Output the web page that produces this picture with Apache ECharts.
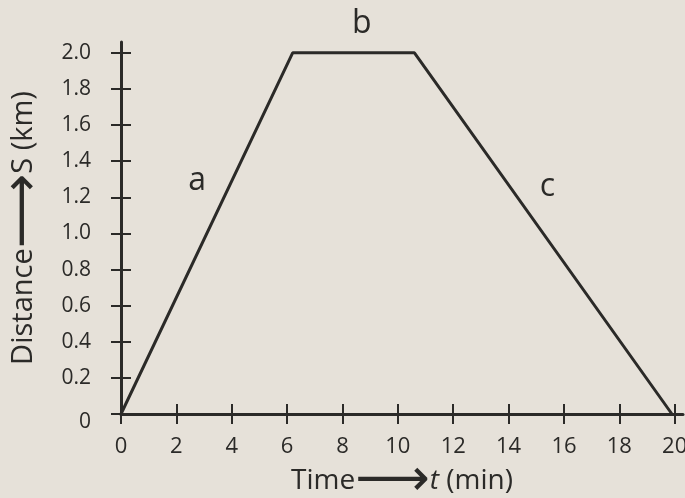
<!DOCTYPE html>
<html>
<head>
<meta charset="utf-8">
<script src="https://cdn.jsdelivr.net/npm/echarts@6/dist/echarts.min.js"></script>
<style>
  html, body { margin: 0; padding: 0; background: #e6e1d9; }
  #chart { width: 685px; height: 498px; }
</style>
</head>
<body>
<div id="chart"></div>
<script>
// distance-time graph data
const times = [0, 6.2, 10.6, 19.9]
const distances = [0, 2.0, 2.0, 0]
const xTicks = [0, 2, 4, 6, 8, 10, 12, 14, 16, 18, 20]
const yTicks = [0, 0.2, 0.4, 0.6, 0.8, 1.0, 1.2, 1.4, 1.6, 1.8, 2.0]
const partNames = ['a', 'b', 'c']
const partTimes = [2.75, 8.7, 15.4]
const partDistances = [1.29, 2.0, 1.26]

const ink = '#2b2a28'
const font = 'Open Sans'

const chart = echarts.init(document.getElementById('chart'))

const tickStyle = { color: ink, width: 2 }
const points = times.map((t, i) => [t, distances[i]])

const option = {
  backgroundColor: '#e6e1d9',
  animation: false,
  grid: { left: 121, right: 2, top: 42, bottom: 84, outerBoundsMode: 'none' },
  xAxis: [
    {
      type: 'value', min: 0, max: 20.3,
      name: '{n|Time}{arr|⟶}{i|t}{n| (min)}',
      nameLocation: 'middle', nameGap: 52, nameMoveOverlap: false,
      nameTextStyle: {
        rich: {
          n: { fontFamily: font, fontSize: 28, color: ink },
          i: { fontFamily: font, fontSize: 28, color: ink, fontStyle: 'italic' },
          arr: { fontFamily: 'DejaVu Sans', fontSize: 52, color: ink, lineHeight: 30 }
        }
      },
      axisLine: { lineStyle: { color: ink, width: 3 } },
      axisTick: { customValues: xTicks, length: 10, inside: false, lineStyle: tickStyle },
      axisLabel: { customValues: xTicks, fontFamily: font, fontSize: 22, color: ink, margin: 22 },
      splitLine: { show: false }
    },
    {
      // second axis only draws the inner half of the crossing ticks
      type: 'value', min: 0, max: 20.3, position: 'bottom',
      axisLine: { show: false },
      axisTick: { customValues: xTicks, length: 10, inside: true, lineStyle: tickStyle },
      axisLabel: { show: false },
      splitLine: { show: false }
    }
  ],
  yAxis: [
    {
      type: 'value', min: 0, max: 2.06,
      name: '{n|Distance}{arr|⟶}{n|S (km)}',
      nameLocation: 'middle', nameGap: 82, nameRotate: 90,
      nameTextStyle: {
        rich: {
          n: { fontFamily: font, fontSize: 29, color: ink },
          arr: { fontFamily: 'DejaVu Sans', fontSize: 52, color: ink, lineHeight: 30 }
        }
      },
      axisLine: { lineStyle: { color: ink, width: 3 } },
      axisTick: { customValues: yTicks, length: 10, inside: false, lineStyle: tickStyle },
      axisLabel: {
        customValues: yTicks, fontFamily: font, fontSize: 21, color: ink, margin: 30,
        formatter: v => v === 0 ? '{z|0}' : v.toFixed(1),
        rich: { z: { fontFamily: font, fontSize: 21, color: ink, padding: [16, 0, 0, 0] } }
      },
      splitLine: { show: false }
    },
    {
      type: 'value', min: 0, max: 2.06, position: 'left',
      axisLine: { show: false },
      axisTick: { customValues: yTicks, length: 10, inside: true, lineStyle: tickStyle },
      axisLabel: { show: false },
      splitLine: { show: false }
    }
  ],
  series: [
    {
      type: 'line',
      data: points,
      symbol: 'none',
      clip: false,
      lineStyle: { color: ink, width: 3 },
      markPoint: {
        symbol: 'circle',
        symbolSize: 1,
        itemStyle: { color: 'rgba(0,0,0,0)' },
        label: {
          show: true, position: 'inside', fontFamily: font, fontSize: 32, color: ink,
          formatter: p => p.name
        },
        data: partNames.map((n, i) => ({
          name: n,
          coord: [partTimes[i], partDistances[i]],
          label: n === 'b' ? { position: 'top', distance: 12 } : undefined
        }))
      }
    },
    {
      // invisible copy bound to the tick-only axes so they are drawn
      type: 'line',
      xAxisIndex: 1,
      yAxisIndex: 1,
      data: points,
      symbol: 'none',
      silent: true,
      lineStyle: { opacity: 0 }
    }
  ]
}

chart.setOption(option)
</script>
</body>
</html>
